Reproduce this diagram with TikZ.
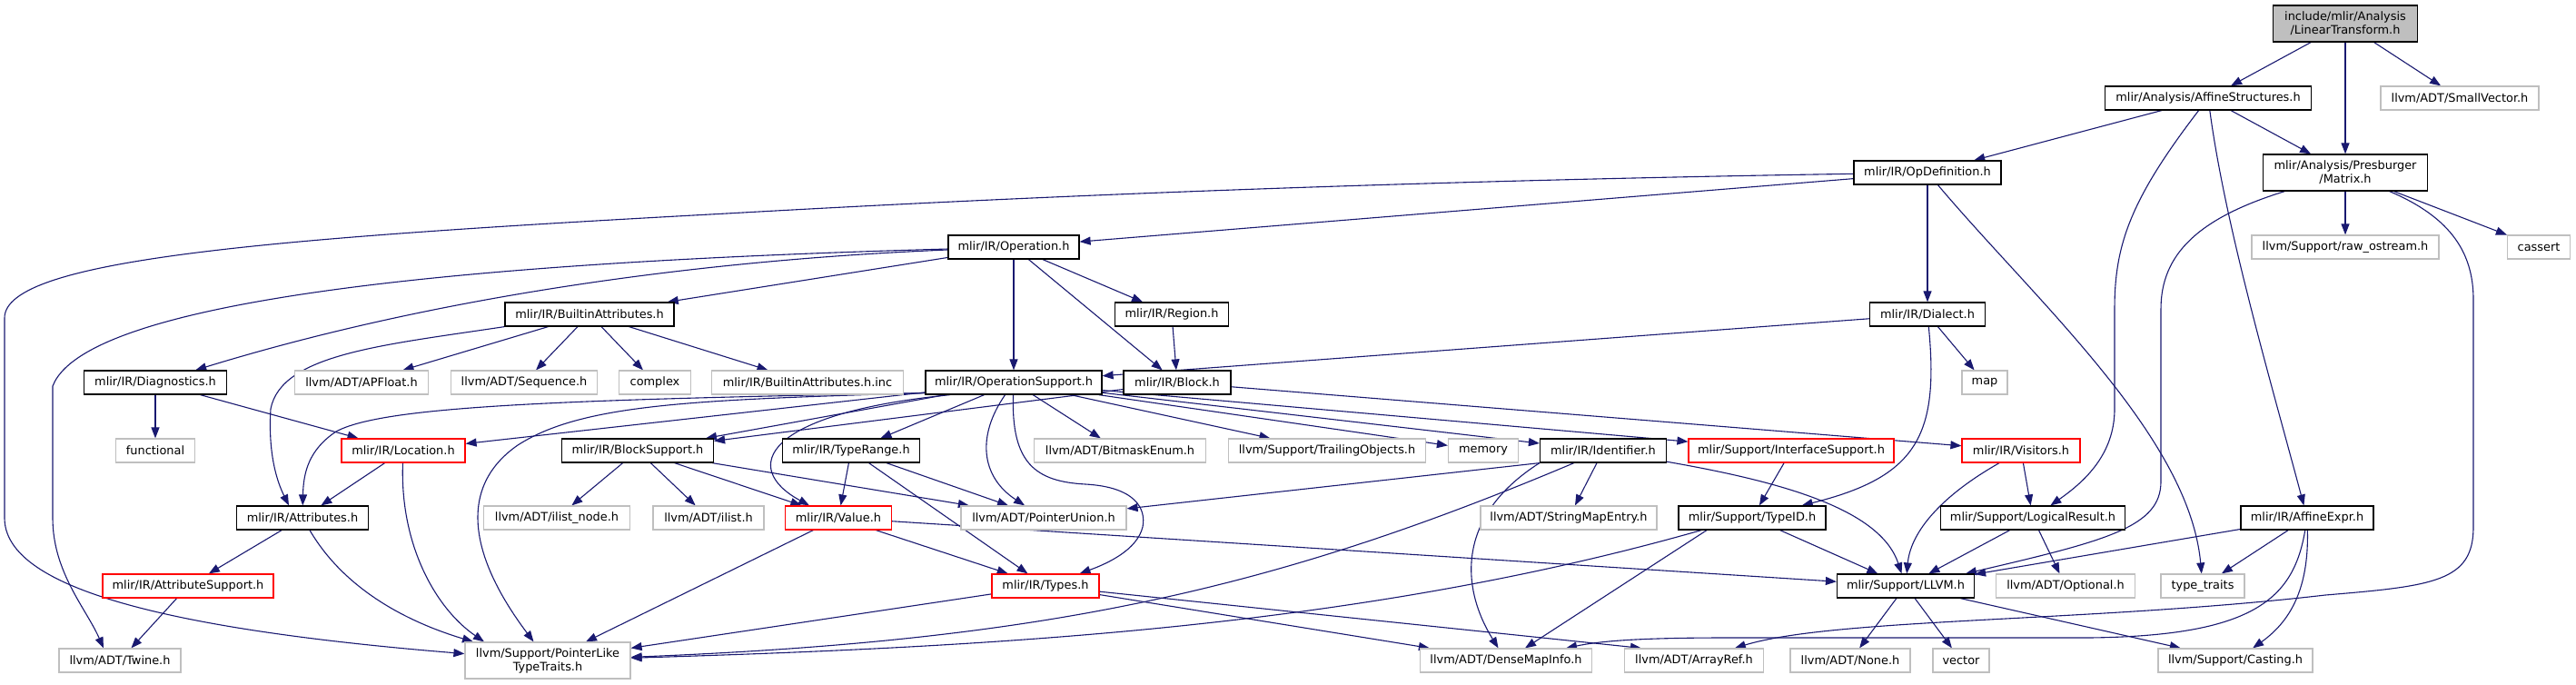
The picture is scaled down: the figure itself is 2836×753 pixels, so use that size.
\documentclass[tikz,border=0pt]{standalone}
\usepackage{fontspec}
\setmainfont{DejaVu Sans}
\usetikzlibrary{arrows.meta}
\definecolor{edgeblue}{RGB}{25,25,112}
\definecolor{grayb}{RGB}{191,191,191}
\pgfdeclarelayer{bg}
\pgfsetlayers{bg,main}
\begin{document}
\begin{tikzpicture}[x=1pt,y=-1pt,
  box/.style={draw=black, line width=1.2pt, fill=white, inner sep=0pt, minimum height=26pt,
    font=\fontsize{12.9}{15}\selectfont, align=center},
  doc/.style={box},
  ext/.style={box, draw=grayb},
  trunc/.style={box, draw=red},
  rootbox/.style={box, fill=grayb, minimum height=40pt},
  two/.style={minimum height=40pt},
  e/.style={draw=edgeblue, line width=1.1pt, -{Triangle[length=12pt,width=9pt]}},
]
\useasboundingbox (0,0) rectangle (2836,753);
% nodes
\node[rootbox, minimum width=159pt] (root) at (2582,26) {include/mlir/Analysis\\/LinearTransform.h};
\node[doc, minimum width=227pt] (affs) at (2431,108) {mlir/Analysis/AffineStructures.h};
\node[ext, minimum width=174pt] (svec) at (2708,108) {llvm/ADT/SmallVector.h};
\node[doc, minimum width=162pt] (opdef) at (2122,190) {mlir/IR/OpDefinition.h};
\node[doc, two, minimum width=181pt] (matrix) at (2582,190) {mlir/Analysis/Presburger\\/Matrix.h};
\node[ext, minimum width=206pt] (rawos) at (2582,272) {llvm/Support/raw\_ostream.h};
\node[ext, minimum width=69pt] (cassert) at (2795,272) {cassert};
\node[doc, minimum width=144pt] (operation) at (1116,272) {mlir/IR/Operation.h};
\node[doc, minimum width=127pt] (dialect) at (2122,346) {mlir/IR/Dialect.h};
\node[doc, minimum width=125pt] (region) at (1290,346) {mlir/IR/Region.h};
\node[doc, minimum width=186pt] (ba) at (649,346) {mlir/IR/BuiltinAttributes.h};
\node[doc, minimum width=157pt] (diag) at (171,421) {mlir/IR/Diagnostics.h};
\node[ext, minimum width=147pt] (apfloat) at (398,421) {llvm/ADT/APFloat.h};
\node[ext, minimum width=161pt] (sequence) at (577,421) {llvm/ADT/Sequence.h};
\node[ext, minimum width=79pt] (complex) at (721,421) {complex};
\node[ext, minimum width=211pt] (bainc) at (889,421) {mlir/IR/BuiltinAttributes.h.inc};
\node[doc, minimum width=194pt] (opsupp) at (1116,421) {mlir/IR/OperationSupport.h};
\node[doc, minimum width=118pt] (block) at (1296,421) {mlir/IR/Block.h};
\node[ext, minimum width=50pt] (map) at (2185,421) {map};
\node[ext, minimum width=87pt] (functional) at (171,496) {functional};
\node[trunc, minimum width=136pt] (location) at (444,496) {mlir/IR/Location.h};
\node[doc, minimum width=167pt] (blocksupp) at (702,496) {mlir/IR/BlockSupport.h};
\node[doc, minimum width=151pt] (typerange) at (937,496) {mlir/IR/TypeRange.h};
\node[ext, minimum width=189pt] (bitmask) at (1233,496) {llvm/ADT/BitmaskEnum.h};
\node[ext, minimum width=217pt] (trailing) at (1461,496) {llvm/Support/TrailingObjects.h};
\node[ext, minimum width=77pt] (memory) at (1633,496) {memory};
\node[doc, minimum width=139pt] (identifier) at (1765,496) {mlir/IR/Identifier.h};
\node[trunc, minimum width=226pt] (ifacesupp) at (1972,496) {mlir/Support/InterfaceSupport.h};
\node[trunc, minimum width=130pt] (visitors) at (2225,496) {mlir/IR/Visitors.h};
\node[doc, minimum width=145pt] (attributes) at (333,570) {mlir/IR/Attributes.h};
\node[ext, minimum width=161pt] (ilistnode) at (613,570) {llvm/ADT/ilist\_node.h};
\node[ext, minimum width=122pt] (ilist) at (780,570) {llvm/ADT/ilist.h};
\node[trunc, minimum width=117pt] (value) at (923,570) {mlir/IR/Value.h};
\node[ext, minimum width=182pt] (ptrunion) at (1149,570) {llvm/ADT/PointerUnion.h};
\node[ext, minimum width=194pt] (smentry) at (1727,570) {llvm/ADT/StringMapEntry.h};
\node[doc, minimum width=162pt] (typeid) at (1929,570) {mlir/Support/TypeID.h};
\node[doc, minimum width=203pt] (logres) at (2238,570) {mlir/Support/LogicalResult.h};
\node[doc, minimum width=146pt] (affexpr) at (2540,570) {mlir/IR/AffineExpr.h};
\node[trunc, minimum width=188pt] (attrsupp) at (207,645) {mlir/IR/AttributeSupport.h};
\node[trunc, minimum width=118pt] (types) at (1151,645) {mlir/IR/Types.h};
\node[doc, minimum width=151pt] (llvm) at (2098,645) {mlir/Support/LLVM.h};
\node[ext, minimum width=153pt] (optional) at (2274,645) {llvm/ADT/Optional.h};
\node[ext, minimum width=92pt] (typetraits) at (2425,645) {type\_traits};
\node[ext, minimum width=134pt] (twine) at (132,727) {llvm/ADT/Twine.h};
\node[ext, two, minimum width=182pt] (plt) at (603,727) {llvm/Support/PointerLike\\TypeTraits.h};
\node[ext, minimum width=189pt] (densemap) at (1658,727) {llvm/ADT/DenseMapInfo.h};
\node[ext, minimum width=153pt] (arrayref) at (1865,727) {llvm/ADT/ArrayRef.h};
\node[ext, minimum width=132pt] (none) at (2037,727) {llvm/ADT/None.h};
\node[ext, minimum width=62pt] (vector) at (2159,727) {vector};
\node[ext, minimum width=170pt] (casting) at (2461,727) {llvm/Support/Casting.h};
% edges
\begin{pgfonlayer}{bg}
\draw[e] (root) -- (affs);
\draw[e] (root) -- (matrix);
\draw[e] (root) -- (svec);
\draw[e] (affs) -- (opdef);
\draw[e] (affs) -- (matrix);
\draw[e] (affs) .. controls (2450,250) and (2500,420) .. (affexpr);
\draw[e] (affs) .. controls (2345,220) and (2328,270) .. (2328,340) -- (2328,450) .. controls (2328,500) and (2295,530) .. (logres);
\draw[e] (opdef) -- (dialect);
\draw[e] (opdef) -- (operation);
\draw[e] (opdef) .. controls (1500,200) and (1100,218) .. (800,235) .. controls (300,262) and (5,285) .. (5,350) -- (5,570) .. controls (5,640) and (150,690) .. (plt);
\draw[e] (opdef) .. controls (2240,330) and (2410,480) .. (typetraits);
\draw[e] (dialect) -- (map);
\draw[e] (dialect) -- (opsupp);
\draw[e] (dialect) .. controls (2135,480) and (2110,525) .. (typeid);
\draw[e] (matrix) -- (rawos);
\draw[e] (matrix) -- (cassert);
\draw[e] (matrix) .. controls (2420,240) and (2379,280) .. (2379,340) -- (2379,530) .. controls (2379,580) and (2320,595) .. ([xshift=66pt]llvm.north);
\draw[e] (matrix) .. controls (2700,240) and (2723,280) .. (2723,330) -- (2723,580) .. controls (2723,640) and (2680,645) .. (2560,655) .. controls (2300,685) and (2020,680) .. (arrayref);
\draw[e] (affexpr) -- (llvm);
\draw[e] (affexpr) -- (typetraits);
\draw[e] (affexpr) .. controls (2542,650) and (2520,685) .. (casting);
\draw[e] (affexpr) .. controls (2525,660) and (2480,700) .. (2300,702) -- (1900,702) .. controls (1800,702) and (1760,706) .. (densemap);
\draw[e] (logres) -- (llvm);
\draw[e] (logres) -- (optional);
\draw[e] (visitors) -- (logres);
\draw[e] (visitors) .. controls (2130,550) and (2103,590) .. (llvm);
\draw[e] (ifacesupp) -- (typeid);
\draw[e] (typeid) -- (llvm);
\draw[e] ([xshift=-50pt]typeid.south) -- (densemap);
\draw[e] ([xshift=-56pt]typeid.south) .. controls (1500,690) and (1100,712) .. (plt);
\draw[e] (identifier) .. controls (1960,530) and (2070,560) .. (llvm);
\draw[e] (identifier.south west) -- (ptrunion);
\draw[e] (identifier) -- (smentry);
\draw[e] (identifier) .. controls (1400,650) and (1150,705) .. (plt);
\draw[e] (identifier.south west) .. controls (1600,570) and (1610,650) .. (densemap);
\draw[e] (value) -- (llvm);
\draw[e] (value) -- (types);
\draw[e] (value) -- (plt);
\draw[e] (llvm) -- (none);
\draw[e] (llvm) -- (vector);
\draw[e] (llvm) -- (casting);
\draw[e] (operation) -- (opsupp);
\draw[e] (operation) -- (block);
\draw[e] (operation) -- (region);
\draw[e] (operation) -- (ba);
\draw[e] (operation) .. controls (800,285) and (500,320) .. (diag);
\draw[e] (operation) .. controls (650,285) and (100,315) .. (58,425) -- (58,570) .. controls (58,630) and (95,670) .. ([xshift=-18pt]twine.north);
\draw[e] (region) -- (block);
\draw[e] (block) -- (blocksupp);
\draw[e] (block) -- (visitors);
\draw[e] (opsupp) -- (typerange);
\draw[e] (opsupp) -- (bitmask);
\draw[e] (opsupp) -- (trailing);
\draw[e] (opsupp) -- (memory);
\draw[e] (opsupp) -- (identifier);
\draw[e] (opsupp) -- (ifacesupp);
\draw[e] (opsupp) -- (location);
\draw[e] (opsupp) -- (blocksupp);
\draw[e] (opsupp) .. controls (1075,480) and (1080,525) .. (ptrunion);
\draw[e] (opsupp) .. controls (1113,510) and (1140,530) .. (1195,533) .. controls (1250,536) and (1262,560) .. (1258,580) .. controls (1252,605) and (1220,620) .. (types);
\draw[e] ([yshift=2pt]opsupp.south west) .. controls (600,440) and (420,448) .. (370,475) .. controls (340,495) and (334,520) .. (attributes);
\draw[e] ([yshift=2pt]opsupp.south west) .. controls (760,440) and (640,445) .. (570,490) .. controls (505,535) and (515,610) .. (plt);
\draw[e] ([xshift=-70pt]opsupp.south) .. controls (840,455) and (815,515) .. ([xshift=-32pt]value.north);
\draw[e] (typerange) -- (value);
\draw[e] (typerange) -- (ptrunion);
\draw[e] (typerange) -- (types);
\draw[e] (blocksupp) -- (ilistnode);
\draw[e] (blocksupp) -- (ilist);
\draw[e] (blocksupp) -- (value);
\draw[e] (blocksupp) -- (ptrunion);
\draw[e] (types) -- (plt);
\draw[e] (types) -- (densemap);
\draw[e] (types) -- ([xshift=-58pt]arrayref.north);
\draw[e] (ba) -- (apfloat);
\draw[e] (ba) -- (sequence);
\draw[e] (ba) -- (complex);
\draw[e] (ba) -- (bainc);
\draw[e] (ba.south west) .. controls (420,380) and (310,390) .. (298,450) .. controls (295,500) and (305,530) .. ([xshift=-15pt]attributes.north);
\draw[e] (diag) -- (functional);
\draw[e] (diag) -- (location);
\draw[e] (location) -- (attributes);
\draw[e] (location) .. controls (440,600) and (480,670) .. ([xshift=-70pt]plt.north);
\draw[e] (attributes) -- (attrsupp);
\draw[e] (attributes) .. controls (380,650) and (450,685) .. ([xshift=-82pt]plt.north);
\draw[e] (attrsupp) -- (twine);
\end{pgfonlayer}
\end{tikzpicture}
\end{document}
